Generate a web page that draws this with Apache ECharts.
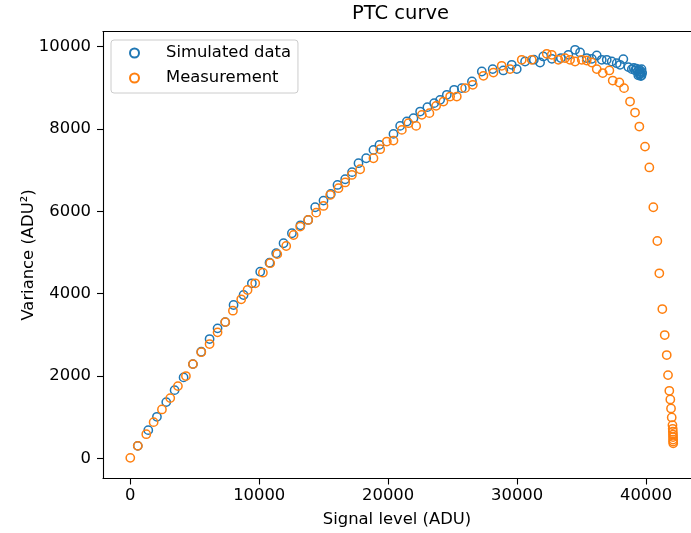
<!DOCTYPE html>
<html><head><meta charset="utf-8">
<script src="https://cdn.jsdelivr.net/npm/echarts@6/dist/echarts.min.js"></script>
<style>html,body{margin:0;padding:0;background:#fff}#c{width:691px;height:533px}</style>
</head><body><div id="c"></div>
<script>
const titleText = 'PTC curve';
const xName = 'Signal level (ADU)';
const yName = 'Variance (ADU\u00B2)';
const seriesNames = ['Simulated data', 'Measurement'];
const xTicks = [0, 10000, 20000, 30000, 40000];
const yTicks = [0, 2000, 4000, 6000, 8000, 10000];

const simX = [581,1395,2067,2790,3437,4134,4858,5504,6150,6770,7364,8010,8785,9430,10078,10800,11318,11886,12535,13200,13798,14341,14985,15550,16070,16667,17200,17700,18295,18860,19326,20413,20930,21450,21964,22480,23043,23566,24031,24550,25116,25710,26500,27264,28109,28934,29584,29974,30620,31300,31783,32030,32700,33400,33977,34496,34884,35400,35800,36178,36566,36953,37340,37727,37984,38240,38630,38900,39050,39150,39250,39350,39450,39500,39550,39600,39650,39700,39600,39500,39650,39400];
const simY = [306,688,1011,1368,1659,1968,2291,2590,2899,3158,3310,3725,3968,4252,4534,4752,4981,5224,5467,5660,5790,6098,6259,6420,6640,6778,6950,7167,7288,7490,7612,7879,8073,8180,8261,8421,8528,8625,8705,8827,8948,8989,9150,9393,9451,9418,9555,9451,9636,9680,9612,9758,9700,9720,9798,9920,9855,9720,9700,9783,9677,9677,9636,9595,9555,9694,9500,9450,9480,9420,9460,9400,9440,9380,9340,9400,9300,9360,9280,9320,9450,9300];

const measX = [0,581,1240,1810,2455,3100,3695,4315,4858,5504,6150,6770,7364,7960,8605,9095,9690,10285,10850,11400,12093,12663,13178,13798,14419,14985,15504,16147,16667,17186,17829,18860,19380,19897,20413,21062,21576,22170,22612,23200,23721,24287,24806,25323,25969,26566,27388,28163,28806,29457,30361,31137,32300,32688,33200,33720,34109,34496,35016,35400,35790,36178,36643,37157,37417,37933,38295,38760,39147,39481,39922,40256,40566,40876,41031,41264,41450,41605,41705,41806,41884,41938,41992,42050,42070,42080,42090,42095,42100,42105,42110];
const measY = [15,306,590,882,1190,1465,1757,2000,2291,2580,2777,3061,3310,3587,3863,4089,4252,4509,4740,4960,5158,5425,5627,5790,5967,6130,6397,6560,6700,6883,7021,7288,7507,7692,7716,7976,8139,8073,8341,8382,8559,8664,8785,8785,8989,9070,9288,9368,9531,9451,9677,9677,9823,9798,9677,9718,9677,9636,9677,9660,9612,9451,9354,9418,9173,9126,8989,8664,8396,8057,7570,7065,6098,5279,4494,3627,2996,2510,2024,1643,1433,1215,996,810,720,650,580,520,460,410,370];

const colors = ['#1f77b4', '#ff7f0e'];
const font = 'DejaVu Sans';

const zip = (xs, ys) => xs.map((x, i) => [x, ys[i]]);
const plain = v => String(v);

const chart = echarts.init(document.getElementById('c'), null, {renderer: 'canvas'});
const axisLineStyle = {color: '#000', width: 1.1};
chart.setOption({
  animation: false,
  backgroundColor: '#fff',
  title: {
    text: titleText, left: 352, top: 4, padding: 0,
    textStyle: {fontFamily: font, fontSize: 19.5, fontWeight: 'normal', color: '#000'}
  },
  legend: {
    orient: 'vertical', left: 111, top: 40,
    padding: [4, 7, 6, 18],
    itemWidth: 9, itemHeight: 9, itemGap: 7,
    borderColor: '#cccccc', borderWidth: 1, borderRadius: 3,
    backgroundColor: 'rgba(255,255,255,0.8)',
    data: seriesNames,
    textStyle: {fontFamily: font, fontSize: 16.4, color: '#000', lineHeight: 18, padding: [0, 0, 0, 22]}
  },
  grid: {left: 103, right: 0, top: 31.5, bottom: 54.5, containLabel: false},
  xAxis: [{
    type: 'value', min: -2116, max: 43488,
    name: xName, nameLocation: 'middle', nameGap: 33, nameMoveOverlap: false,
    nameTextStyle: {fontFamily: font, fontSize: 16.4, color: '#000'},
    axisLine: {show: true, onZero: false, lineStyle: axisLineStyle},
    axisTick: {show: true, length: 6, lineStyle: axisLineStyle, customValues: xTicks},
    axisLabel: {fontFamily: font, fontSize: 16.4, color: '#000', margin: 9, customValues: xTicks, formatter: plain},
    splitLine: {show: false}
  }, {
    type: 'value', position: 'top', min: -2116, max: 43488,
    axisLine: {show: true, onZero: false, lineStyle: axisLineStyle},
    axisTick: {show: false}, axisLabel: {show: false}, splitLine: {show: false}
  }],
  yAxis: {
    type: 'value', min: -486, max: 10364,
    name: yName, nameLocation: 'middle', nameGap: 66, nameMoveOverlap: false,
    nameTextStyle: {fontFamily: font, fontSize: 16.4, color: '#000'},
    axisLine: {show: true, onZero: false, lineStyle: axisLineStyle},
    axisTick: {show: true, length: 6, lineStyle: axisLineStyle, customValues: yTicks},
    axisLabel: {fontFamily: font, fontSize: 16.4, color: '#000', margin: 12, customValues: yTicks, formatter: plain},
    splitLine: {show: false}
  },
  series: [
    {
      name: seriesNames[0], type: 'scatter', data: zip(simX, simY),
      symbol: 'circle', symbolSize: 8.3,
      itemStyle: {color: 'rgba(0,0,0,0)', borderColor: colors[0], borderWidth: 1.5, opacity: 1}
    },
    {
      name: seriesNames[1], type: 'scatter', data: zip(measX, measY),
      symbol: 'circle', symbolSize: 8.3,
      itemStyle: {color: 'rgba(0,0,0,0)', borderColor: colors[1], borderWidth: 1.5, opacity: 1}
    }
  ]
});
</script>
</body></html>
